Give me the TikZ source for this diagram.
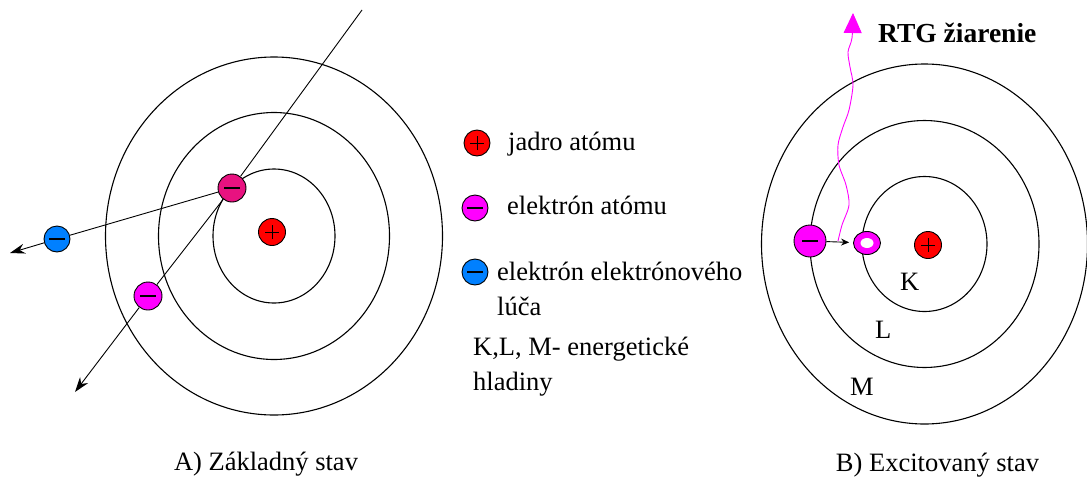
\documentclass[tikz,border=0pt]{standalone}
\usepackage{fontspec}
\setmainfont{Liberation Serif}
\usetikzlibrary{arrows.meta,shapes.geometric}

\definecolor{nucred}{RGB}{255,0,0}
\definecolor{hitpink}{RGB}{232,18,128}
\definecolor{orbmag}{RGB}{255,0,255}
\definecolor{beamblue}{RGB}{0,128,255}

\begin{document}
\begin{tikzpicture}[x=1pt, y=-1pt, >=Stealth,
    orbit/.style={line width=1.1pt},
    charge/.style={circle, draw, line width=0.9pt, inner sep=0pt, minimum size=27pt},
    plussign/.style={path picture={
        \draw[line width=1pt] ([xshift=-7pt]path picture bounding box.center) -- ++(14pt,0);
        \draw[line width=1pt] ([yshift=-7pt]path picture bounding box.center) -- ++(0,14pt);}},
    minussign/.style={path picture={
        \draw[line width=1.1pt] ([xshift=-8pt]path picture bounding box.center) -- ++(16pt,0);}},
    nucleus/.style={charge, fill=nucred, plussign},
    electron/.style={charge, minussign, fill=#1},
    hole/.style={ellipse, draw, line width=0.9pt, fill=orbmag, inner sep=0pt,
        minimum width=27pt, minimum height=23pt,
        path picture={\fill[white] (path picture bounding box.center) ellipse (6.5pt and 5pt);}},
    lbl/.style={inner sep=0pt, font=\fontsize{26.5}{35}\selectfont, align=left},
    ray/.style={line width=0.9pt},
    tip/.style={-{Stealth[length=15pt,width=10pt]}}]

\useasboundingbox (0,0) rectangle (1087,477);

% A) ground state
\draw[orbit] (274,236) ellipse (61 and 67);
\draw[orbit] (274,236) ellipse (115.5 and 123.5);
\draw[orbit] (274,236) ellipse (168.5 and 179);
\node[nucleus] (nucA) at (272,232) {};
\node[electron=hitpink, minimum size=28pt] (eHit) at (232,188) {};
\node[electron=beamblue, minimum size=26pt] (eBeam) at (57,239) {};
\node[electron=orbmag, minimum size=28pt] (eOut) at (148,296) {};
\coordinate (src) at (362,10);
\coordinate (tipBeam) at (10,253);
\coordinate (tipOut) at (75,392);
\draw[ray] (src) -- (eHit);
\draw[ray] (eHit) -- (eBeam);
\draw[ray, tip] (eBeam) -- (tipBeam);
\draw[ray] (eHit) -- (eOut);
\draw[ray, tip] (eOut) -- (tipOut);
\node[lbl, anchor=base] (capA) at (266,470) {A) Základný stav};

% legend
\node[nucleus, minimum size=26pt] (legNuc) at (477,143) {};
\node[electron=orbmag, minimum size=26pt] (legAt) at (475,208) {};
\node[electron=beamblue, minimum size=26pt] (legBeam) at (475,272) {};
\node[lbl, anchor=base west] (txtNuc) at (508,150) {jadro atómu};
\node[lbl, anchor=base west] (txtAt) at (507,214) {elektrón atómu};
\node[lbl, anchor=base west] (txtBeam) at (497,315) {elektrón elektrónového\\lúča};
\node[lbl, anchor=base west] (txtLev) at (473,390) {K,L, M- energetické\\hladiny};

% B) excited state
\draw[orbit] (924.5,244) ellipse (62.5 and 67.5);
\draw[orbit] (924.5,244) ellipse (114.5 and 123.5);
\draw[orbit] (924.5,244) ellipse (163 and 180);
\node[nucleus] (nucB) at (928,245) {};
\node[electron=orbmag, minimum size=32pt] (eL) at (810,241) {};
\node[hole] (holeK) at (867,243) {};
\draw[ray, -{Stealth[length=8pt,width=7pt]}, shorten >=4pt] (eL) -- (holeK);
\coordinate (wstart) at (838,241);
\draw[orbmag, line width=0.9pt, -{Triangle[length=20pt,width=18pt]}]
    plot[smooth] coordinates {(838,241) (842,225) (849,205) (846,185) (839,165) (838,145)
    (843,127) (849,110) (853,85) (850,67) (848,52) (852,38) (853,13)};
\node[lbl, anchor=base west, font=\fontsize{27.5}{35}\selectfont\bfseries] (rtg) at (878,42) {RTG žiarenie};
\node[lbl, anchor=base west] (lblK) at (900,290) {K};
\node[lbl, anchor=base west] (lblL) at (875,338) {L};
\node[lbl, anchor=base west] (lblM) at (850,395) {M};
\node[lbl, anchor=base] (capB) at (937.5,471) {B) Excitovaný stav};
\end{tikzpicture}
\end{document}
